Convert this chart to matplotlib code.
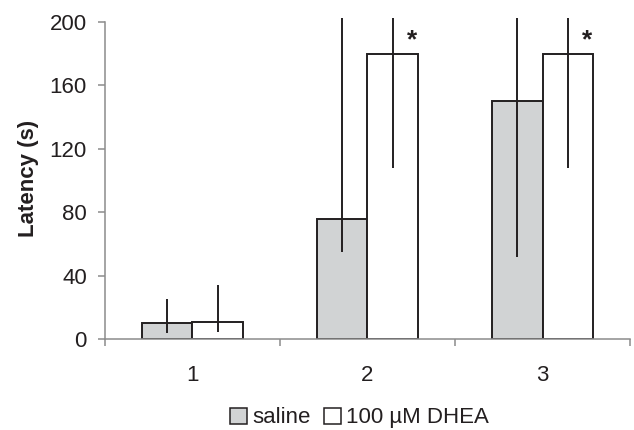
import matplotlib
matplotlib.use("Agg")
import matplotlib.pyplot as plt
import matplotlib.patches as mpatches
import numpy as np

# values (error bars above the axis top are clipped)
sessions = ["1", "2", "3"]
saline_mean = [10, 76, 150]
saline_lo = [4, 55, 52]
saline_hi = [25, 260, 260]
dhea_mean = [10.5, 180, 180]
dhea_lo = [4.5, 108, 108]
dhea_hi = [34, 260, 260]
significant = [False, True, True]

GRAY = "#d1d3d4"
DARK = "#231f20"
SPINE = "#8c8c8c"

plt.rcParams["font.family"] = ["Liberation Sans", "DejaVu Sans"]

fig = plt.figure(figsize=(6.34, 4.30), dpi=100)
ax = fig.add_axes([0.1656, 0.2116, 0.8281, 0.7464])

x = np.arange(len(sessions))
w = 0.286
sal = np.array(saline_mean)
dh = np.array(dhea_mean)

ax.bar(x - w / 2, sal, w, color=GRAY, edgecolor=DARK, linewidth=1.4, zorder=2)
ax.bar(x + w / 2, dh, w, color="white", edgecolor=DARK, linewidth=1.4, zorder=2)

ax.vlines(x - w / 2, saline_lo, saline_hi, color=DARK, linewidth=1.4, zorder=3)
ax.vlines(x + w / 2, dhea_lo, dhea_hi, color=DARK, linewidth=1.4, zorder=3)

for i, sig in enumerate(significant):
    if sig:
        ax.text(x[i] + w / 2 + 0.11, dh[i] + 1, "*", ha="center", va="bottom",
                fontsize=19, fontweight="bold", color=DARK)

ax.set_xlim(-0.5, len(sessions) - 0.5)
ax.set_ylim(0, 202.5)
ax.set_yticks(range(0, 201, 40))
ax.set_xticks(x)
ax.set_xticklabels(sessions)
ax.set_xticks(np.arange(-0.5, len(sessions)), minor=True)

for s in ["top", "right"]:
    ax.spines[s].set_visible(False)
for s in ["left", "bottom"]:
    ax.spines[s].set_color(SPINE)
    ax.spines[s].set_linewidth(1.1)
ax.spines["left"].set_bounds(0, 200)

ax.tick_params(axis="x", which="major", length=0, pad=19, labelsize=16, labelcolor=DARK)
ax.tick_params(axis="x", which="minor", length=5, width=1.1, color=SPINE, direction="out")
ax.tick_params(axis="y", length=5, width=1.1, color=SPINE, pad=8, labelsize=16, labelcolor=DARK)

ax.set_ylabel("Latency (s)", fontsize=16, fontweight="bold", color=DARK, labelpad=8)

handles = [mpatches.Patch(facecolor=GRAY, edgecolor=DARK, linewidth=1.1, label="saline"),
           mpatches.Patch(facecolor="white", edgecolor=DARK, linewidth=1.1, label="100 \u00b5M DHEA")]
fig.legend(handles=handles, loc="center", bbox_to_anchor=(0.567, 0.028), ncol=2,
           frameon=False, fontsize=16, handlelength=0.75, handleheight=0.75,
           handletextpad=0.25, columnspacing=0.6, labelcolor=DARK)

fig.savefig("out.png", dpi=100)
